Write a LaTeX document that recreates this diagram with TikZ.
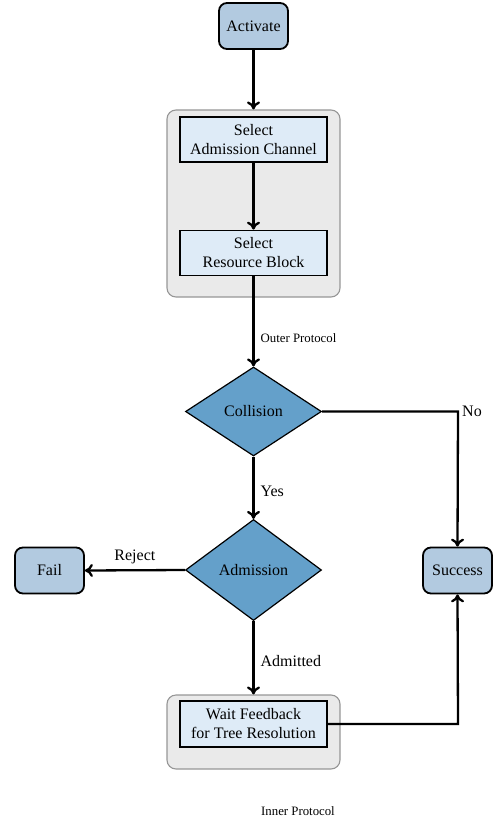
\documentclass[tikz,border=0pt]{standalone}
\usepackage{fontspec}
\setmainfont{Liberation Serif}
\usetikzlibrary{shapes.geometric,arrows.meta}
\definecolor{termfill}{RGB}{178,202,224}
\definecolor{procfill}{RGB}{222,235,247}
\definecolor{decfill}{RGB}{100,160,202}
\definecolor{grpfill}{RGB}{234,234,234}
\definecolor{grpline}{RGB}{150,150,150}
\tikzset{
  term/.style={draw=black, line width=1.8pt, fill=termfill, rounded corners=8pt, minimum width=69pt, minimum height=46pt, inner sep=0pt, font=\fontsize{16}{19}\selectfont},
  proc/.style={draw=black, line width=1.8pt, fill=procfill, minimum width=147pt, minimum height=45pt, inner sep=0pt, align=center, font=\fontsize{16}{19}\selectfont},
  dec/.style={draw=black, line width=1.2pt, fill=decfill, diamond, minimum width=136pt, minimum height=89pt, inner sep=0pt, font=\fontsize{16}{19}\selectfont},
  grp/.style={draw=grpline, line width=1.1pt, fill=grpfill, rounded corners=9pt, inner sep=0pt},
  conn/.style={line width=2.3pt, -{To[length=8pt,width=13pt]}},
  lbl/.style={font=\fontsize{16}{19}\selectfont, inner sep=0pt},
  slbl/.style={font=\fontsize{12.8}{15}\selectfont, inner sep=0pt}
}
\begin{document}
\begin{tikzpicture}[x=1pt,y=-1pt]
\path[use as bounding box] (0,0) rectangle (493,818);
\node[grp, minimum width=173pt, minimum height=187pt] (outer) at (253.5,203.5) {};
\node[grp, minimum width=173pt, minimum height=74pt] (inner) at (253.5,732) {};
\node[term] (act) at (253.5,26) {Activate};
\node[proc] (sac) at (253.5,139.5) {Select\\Admission Channel};
\node[proc] (srb) at (253.5,253) {Select\\Resource Block};
\node[dec] (col) at (253.5,411.5) {Collision};
\node[dec, minimum height=101pt] (adm) at (253.5,570) {Admission};
\node[term] (fail) at (49.5,570.5) {Fail};
\node[term] (succ) at (457.5,570.5) {Success};
\node[proc, minimum height=46pt] (wait) at (253.5,724) {Wait Feedback\\for Tree Resolution};
\coordinate (nocorner) at (458,411.5);
\coordinate (wcorner) at (458,724);
\draw[conn] (act) -- (outer.north);
\draw[conn] (sac) -- (srb);
\draw[conn] (srb) -- node[slbl, right, xshift=6pt, pos=0.69] {Outer Protocol} (col);
\draw[conn] (col) -- node[lbl, right, xshift=6pt, pos=0.55] {Yes} (adm);
\draw[conn] (col.east) -- (nocorner) -- (succ.north);
\node[lbl, right, xshift=4pt] (nolbl) at (nocorner) {No};
\draw[conn] (adm.west) -- node[lbl, above, yshift=5pt] {Reject} (fail.east);
\draw[conn] (adm) -- node[lbl, right, xshift=6pt, pos=0.55] {Admitted} (inner.north);
\draw[conn] (wait.east) -- (wcorner) -- (succ.south);
\node[slbl] (innerlbl) at (298,811) {Inner Protocol};
\end{tikzpicture}
\end{document}
